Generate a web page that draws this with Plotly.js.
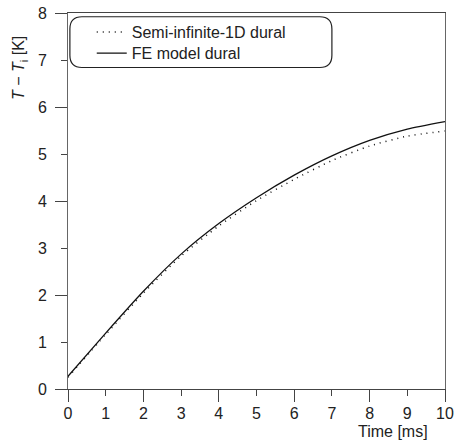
<!DOCTYPE html>
<html>
<head>
<meta charset="utf-8">
<script src="https://cdn.plot.ly/plotly-3.0.1.min.js"></script>
<style>html,body{margin:0;padding:0;background:#fff;}#chart{width:456px;height:443px;}</style>
</head>
<body>
<div id="chart"></div>
<script>
const timeMs = [0, 1, 2, 3, 4, 5, 6, 7, 8, 9, 10];
const semiInfinite1D = [0.25, 1.16, 2.04, 2.83, 3.47, 4.01, 4.46, 4.86, 5.17, 5.38, 5.49];
const feModel = [0.27, 1.19, 2.08, 2.87, 3.52, 4.07, 4.55, 4.96, 5.29, 5.53, 5.69];
const seriesNames = ["Semi-infinite-1D dural", "FE model dural"];
const xTickVals = [0, 1, 2, 3, 4, 5, 6, 7, 8, 9, 10];
const yTickVals = [0, 1, 2, 3, 4, 5, 6, 7, 8];

const font = {family: "Liberation Sans, Arial, sans-serif", size: 16, color: "#222"};

const traces = [
  {x: timeMs, y: semiInfinite1D, name: seriesNames[0], mode: "lines",
   line: {color: "#111", width: 1.5, dash: "1px,5px", shape: "spline", smoothing: 0.6},
   xaxis: "x2", yaxis: "y2", hoverinfo: "skip", legend: "legend"},
  {x: timeMs, y: feModel, name: seriesNames[1], mode: "lines",
   line: {color: "#111", width: 1.3, shape: "spline", smoothing: 0.6},
   hoverinfo: "skip", legend: "legend2"}
];

// rounded legend frame (data coords)
const bx0 = 0.05, bx1 = 7.0, by0 = 6.84, by1 = 7.92, rx = 0.32, ry = 0.26;
const boxPath = `M ${bx0+rx},${by1} L ${bx1-rx},${by1} Q ${bx1},${by1} ${bx1},${by1-ry} L ${bx1},${by0+ry} Q ${bx1},${by0} ${bx1-rx},${by0} L ${bx0+rx},${by0} Q ${bx0},${by0} ${bx0},${by0+ry} L ${bx0},${by1-ry} Q ${bx0},${by1} ${bx0+rx},${by1} Z`;

const legendBase = {xanchor: "left", yanchor: "middle", bgcolor: "rgba(0,0,0,0)",
                    borderwidth: 0, font: font, itemwidth: 30};

const layout = {
  width: 456, height: 443,
  margin: {l: 68, r: 11, t: 13, b: 54},
  paper_bgcolor: "#fff", plot_bgcolor: "#fff",
  font: font,
  showlegend: true,
  legend: Object.assign({x: 0.063, y: 0.949}, legendBase),
  legend2: Object.assign({x: 0.063, y: 0.893}, legendBase),
  xaxis: {range: [0, 10], tickvals: xTickVals, ticks: "outside", ticklen: 6, tickwidth: 1,
          tickcolor: "#444", showline: true, linecolor: "#444", linewidth: 1, mirror: true,
          showgrid: false, zeroline: false, tickfont: font, ticklabelstandoff: 4, fixedrange: true},
  yaxis: {range: [0, 8], tickvals: yTickVals, ticks: "outside", ticklen: 6, tickwidth: 1,
          tickcolor: "#444", showline: true, linecolor: "#666", linewidth: 1, mirror: true,
          showgrid: false, zeroline: false, tickfont: font, ticklabelstandoff: 11, fixedrange: true},
  xaxis2: {range: [0, 10], overlaying: "x", anchor: "y2", dtick: 2, tick0: 0, ticks: "outside",
           ticklen: 12, tickwidth: 1, tickcolor: "#444", showticklabels: false,
           showline: false, showgrid: false, zeroline: false, fixedrange: true},
  yaxis2: {range: [0, 8], overlaying: "y", anchor: "x2", dtick: 2, tick0: 0, ticks: "outside",
           ticklen: 12, tickwidth: 1, tickcolor: "#444", showticklabels: false,
           showline: false, showgrid: false, zeroline: false, fixedrange: true},
  shapes: [{type: "path", xref: "x", yref: "y", path: boxPath,
            line: {color: "#222", width: 1.2}, fillcolor: "rgba(0,0,0,0)"}],
  annotations: [
    {text: "<i>T</i> − <i>T</i><sub>i</sub> [K]", xref: "paper", yref: "paper",
     x: -0.127, y: 0.854, textangle: -90, showarrow: false, font: font,
     xanchor: "center", yanchor: "middle"},
    {text: "Time [ms]", xref: "paper", yref: "paper", x: 0.96, y: -0.112,
     xanchor: "right", yanchor: "middle", showarrow: false, font: font}
  ]
};

Plotly.newPlot("chart", traces, layout, {staticPlot: true, displayModeBar: false});
</script>
</body>
</html>
